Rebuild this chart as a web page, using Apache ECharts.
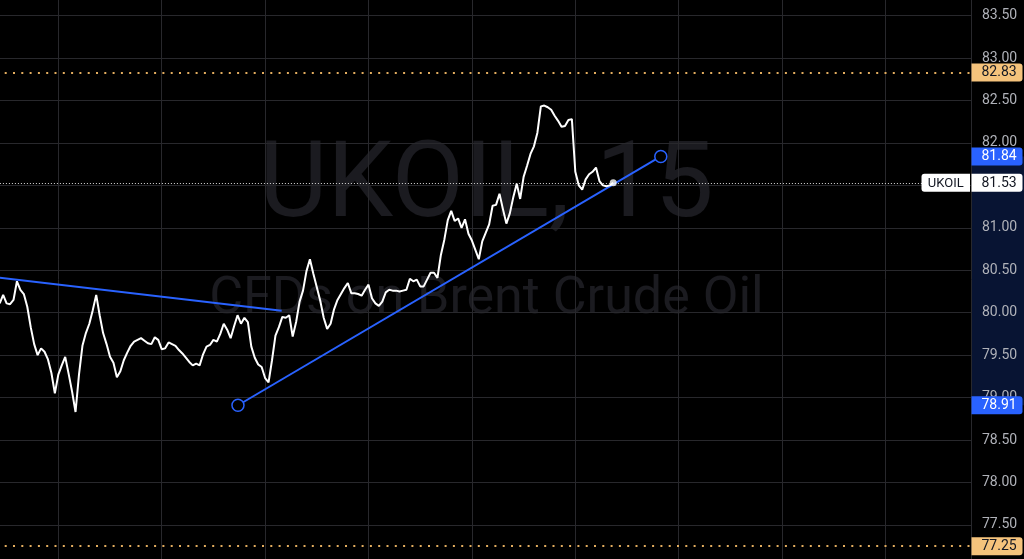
<!DOCTYPE html>
<html><head><meta charset="utf-8">
<script src="https://cdn.jsdelivr.net/npm/echarts/dist/echarts.min.js"></script>
<style>html,body{margin:0;padding:0;background:#000;overflow:hidden}#c{width:1024px;height:559px}</style>
</head><body><div id="c"></div>
<script>
// ---- data ----
const symbolName = 'UKOIL';
const watermarkTitle = 'UKOIL, 15';
const watermarkSubtitle = 'CFDs on Brent Crude Oil';
const firstBarIndex = 13; // bar index of first visible close
const closes = [
80.11,80.21,80.11,80.10,80.15,80.37,80.27,80.22,80.07,79.83,
79.63,79.50,79.58,79.54,79.45,79.29,79.05,79.27,79.38,79.48,
79.28,79.07,78.83,79.27,79.61,79.76,79.87,80.03,80.21,79.97,
79.76,79.63,79.48,79.41,79.24,79.31,79.44,79.53,79.61,79.66,
79.68,79.70,79.67,79.64,79.63,79.71,79.68,79.57,79.58,79.65,
79.63,79.61,79.56,79.52,79.47,79.42,79.38,79.40,79.38,79.51,
79.60,79.62,79.68,79.66,79.75,79.87,79.80,79.70,79.84,79.97,
79.87,79.94,79.89,79.60,79.47,79.39,79.36,79.23,79.18,79.44,
79.73,79.83,79.95,79.94,79.97,79.72,79.89,80.13,80.26,80.49,
80.63,80.46,80.30,80.14,79.94,79.81,79.87,80.04,80.15,80.22,
80.29,80.35,80.23,80.23,80.22,80.20,80.27,80.33,80.17,80.11,
80.08,80.13,80.24,80.27,80.26,80.26,80.25,80.26,80.27,80.40,
80.37,80.39,80.31,80.31,80.39,80.47,80.47,80.41,80.68,80.86,
81.09,81.20,81.08,81.11,81.00,81.10,80.93,80.85,80.74,80.63,
80.84,80.94,81.04,81.26,81.27,81.40,81.22,81.05,81.17,81.36,
81.52,81.34,81.60,81.73,81.87,81.96,82.12,82.43,82.44,82.42,
82.39,82.32,82.26,82.19,82.20,82.27,82.28,81.66,81.50,81.45,
81.57,81.63,81.66,81.71,81.55,81.50,81.49,81.50,81.53
];
const lastPrice = 81.53;
const trendLineA = [[0, 80.474], [94.8, 80.024]];
const trendLineB = [[82.13, 78.91], [204.8, 81.84]];
const rangeLevels = [81.84, 78.91];
const alertLevels = [82.83, 77.25];
const yMin = 77, yMax = 84, yStep = 0.5;
const xMin = 0, xMax = 294.8, xStep = 30;

// ---- build ----
const series = closes.map((v, i) => [firstBarIndex + i, v]);
const lastPoint = series[series.length - 1];
const chart = echarts.init(document.getElementById('c'));
const gridCol = '#28282c';
const FONT = 'Roboto, "Noto Sans", sans-serif';

const option = {
  backgroundColor: '#000000',
  animation: false,
  grid: { left: -45.1, right: 53, top: -26.9, bottom: -8.4, containLabel: false, outerBoundsMode: 'none' },
  xAxis: {
    type: 'value', min: xMin, max: xMax, interval: xStep,
    axisLine: { show: false }, axisTick: { show: false }, axisLabel: { show: false },
    splitLine: { show: true, lineStyle: { color: gridCol, width: 1 } }
  },
  yAxis: {
    type: 'value', position: 'right', min: yMin, max: yMax, interval: yStep,
    axisLine: { show: true, lineStyle: { color: '#3a3a3f', width: 1 } },
    axisTick: { show: false },
    axisLabel: { color: '#b0b2b9', fontSize: 14, fontFamily: FONT, align: 'left', margin: 11,
      formatter: v => v.toFixed(2) },
    splitLine: { show: true, lineStyle: { color: gridCol, width: 1 } }
  },
  series: [
    {
      type: 'line', data: trendLineA, symbol: 'none', z: 3,
      lineStyle: { color: '#2962ff', width: 2 }
    },
    {
      type: 'line', data: trendLineB, symbol: 'circle', symbolSize: 12, showSymbol: true, z: 4,
      lineStyle: { color: '#2962ff', width: 2 },
      itemStyle: { color: '#000000', borderColor: '#2962ff', borderWidth: 1.5 }
    },
    {
      type: 'line', data: series, symbol: 'none', z: 5,
      lineStyle: { color: '#ffffff', width: 2 },
      markLine: {
        silent: true, symbol: 'none', animation: false, label: { show: false },
        data: [
          { yAxis: alertLevels[0], lineStyle: { color: '#e3ad5f', width: 2, type: [2, 6.3] } },
          { yAxis: alertLevels[1], lineStyle: { color: '#e3ad5f', width: 2, type: [2, 6.3] } },
          { yAxis: lastPrice, lineStyle: { color: '#dadada', width: 1, type: [1, 2] } }
        ]
      }
    },
    {
      type: 'scatter', data: [lastPoint], symbolSize: 7, z: 6,
      itemStyle: { color: '#ffffff' }
    }
  ]
};
chart.setOption(option);

// ---- overlays positioned through the axis scale ----
function py(v) { return chart.convertToPixel({ gridIndex: 0 }, [xMax, v])[1]; }
const axisX = chart.convertToPixel({ gridIndex: 0 }, [xMax, lastPrice])[0];
const W = 1024, H = 18;
const g = [];
const paneCenter = axisX / 2 + 1;
g.push({ type: 'text', z: -10, x: paneCenter, y: 190, style: { text: watermarkTitle, font: '105px Roboto, sans-serif', fill: '#1b1b20', align: 'center', verticalAlign: 'middle' } });
g.push({ type: 'text', z: -10, x: paneCenter, y: 300, style: { text: watermarkSubtitle, font: '52px Roboto, sans-serif', fill: '#1b1b20', align: 'center', verticalAlign: 'middle' } });
// range band on axis
const yTop = py(rangeLevels[0]), yBot = py(rangeLevels[1]);
g.push({ type: 'rect', z: -5, shape: { x: axisX + 0.5, y: yTop, width: W - axisX, height: yBot - yTop }, style: { fill: 'rgba(41,98,255,0.2)' } });
function tag(v, bg, fg) {
  const y = py(v);
  g.push({ type: 'rect', z: 100, shape: { x: axisX + 0.5, y: y - H / 2, width: 51, height: H, r: [0, 3, 3, 0] }, style: { fill: bg } });
  g.push({ type: 'text', z: 101, x: axisX + 10.5, y: y + 0.5, style: { text: v.toFixed(2), font: '14px ' + FONT, fill: fg, align: 'left', verticalAlign: 'middle' } });
}
tag(alertLevels[0], '#f5c37c', '#131722');
tag(alertLevels[1], '#f5c37c', '#131722');
tag(rangeLevels[0], '#2962ff', '#ffffff');
tag(rangeLevels[1], '#2962ff', '#ffffff');
tag(lastPrice, '#ffffff', '#131722');
{
  const y = py(lastPrice);
  g.push({ type: 'rect', z: 100, shape: { x: axisX - 49.5, y: y - H / 2, width: 48.5, height: H, r: [3, 0, 0, 3] }, style: { fill: '#ffffff' } });
  g.push({ type: 'text', z: 101, x: axisX - 25.2, y: y + 0.5, style: { text: symbolName, font: '13px ' + FONT, fill: '#131722', align: 'center', verticalAlign: 'middle' } });
}
chart.setOption({ graphic: { elements: g } });
</script></body></html>
